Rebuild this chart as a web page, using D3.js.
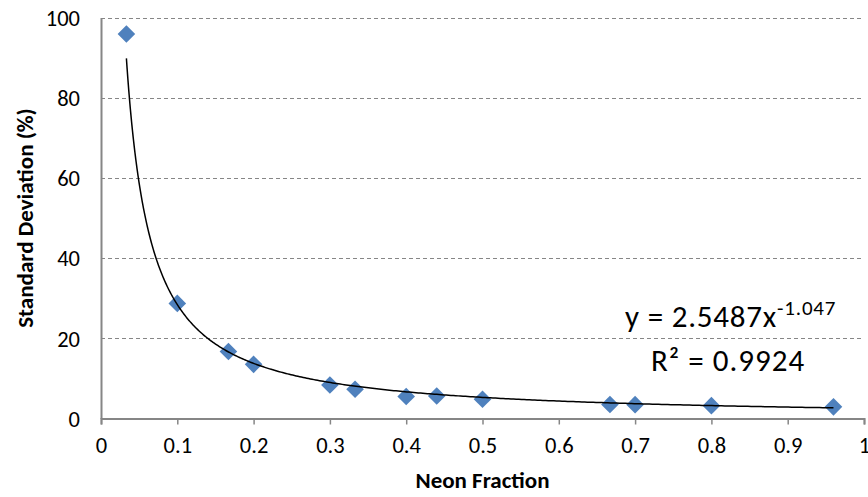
<!DOCTYPE html>
<html>
<head>
<meta charset="utf-8">
<script src="https://cdn.jsdelivr.net/npm/d3@7"></script>
<style>
  body { margin: 0; background: #fff; }
  svg { display: block; font-family: Carlito, Calibri, Lato, sans-serif; }
</style>
</head>
<body>
<svg id="chart" width="868" height="497"></svg>
<script>
'use strict';

var neonFraction = [0.0333, 0.1, 0.167, 0.2, 0.3, 0.333, 0.4, 0.44, 0.5, 0.667, 0.7, 0.8, 0.96]
  , stdDev = [95.9, 28.7, 16.7, 13.5, 8.35, 7.3, 5.5, 5.6, 4.8, 3.5, 3.45, 3.2, 2.9]
  , xTicks = [0, 0.1, 0.2, 0.3, 0.4, 0.5, 0.6, 0.7, 0.8, 0.9, 1]
  , yTicks = [0, 20, 40, 60, 80, 100]
  , fitCoef = 2.5487
  , fitExp = -1.047
  , fitR2 = 0.9924

var svg = d3.select('#chart')
  , x = d3.scaleLinear().domain([0, 1]).range([101, 864])
  , y = d3.scaleLinear().domain([0, 100]).range([418.5, 17.5])
  , axisColor = '#868686'

// dashed gridlines (skip 0, the axis sits there)
svg.append('g')
   .selectAll('line')
   .data(yTicks.filter(function(d){ return d > 0; }))
   .join('line')
     .attr('x1', x(0)).attr('x2', x(1))
     .attr('y1', function(d){ return Math.round(y(d)) + 0.5; })
     .attr('y2', function(d){ return Math.round(y(d)) + 0.5; })
     .attr('stroke', axisColor)
     .attr('stroke-dasharray', '4,3');

var xAxis = svg.append('g')
   .attr('transform', 'translate(0,' + y(0) + ')')
   .call(d3.axisBottom(x).tickValues(xTicks).tickSize(6).tickPadding(13)
           .tickFormat(function(d){ return d === 0 ? '0' : d === 1 ? '1' : d3.format('.1f')(d); }));

var yAxis = svg.append('g')
   .attr('transform', 'translate(' + x(0) + ',0)')
   .call(d3.axisLeft(y).tickValues(yTicks).tickSize(0).tickPadding(21));

[xAxis, yAxis].forEach(function(g){
  g.select('.domain').attr('stroke', axisColor).attr('stroke-width', 2);
  g.selectAll('.tick line').attr('stroke', axisColor).attr('stroke-width', 1.5);
  g.selectAll('.tick text')
   .attr('fill', '#000')
   .style('font-size', '22.5px')
   .style('font-family', 'Carlito, Calibri, Lato, sans-serif');
});
yAxis.selectAll('.tick text').attr('dy', '0.35em');

// markers
var diamond = d3.symbol().type(d3.symbolSquare).size(155)

svg.append('g')
   .selectAll('path')
   .data(neonFraction)
   .join('path')
     .attr('d', diamond)
     .attr('transform', function(d, i){
       return 'translate(' + x(d) + ',' + y(stdDev[i]) + ') rotate(45)';
     })
     .attr('fill', '#4F81BD');

// power trendline from the displayed fit
var xs = d3.range(0, 401).map(function(i){
  var lo = neonFraction[0], hi = neonFraction[neonFraction.length - 1];
  return lo + (hi - lo) * Math.pow(i / 400, 2);
});

svg.append('path')
   .datum(xs)
   .attr('fill', 'none')
   .attr('stroke', '#000')
   .attr('stroke-width', 1.5)
   .attr('d', d3.line()
     .x(function(d){ return x(d); })
     .y(function(d){ return y(fitCoef * Math.pow(d, fitExp)); }));

// trendline label
var eq = svg.append('text')
   .attr('x', 625).attr('y', 327)
   .style('font-size', '31px')
   .style('letter-spacing', '0.8px')
eq.append('tspan').text('y = ' + fitCoef + 'x');
eq.append('tspan')
  .attr('dy', -12)
  .style('font-size', '21px')
  .text(fitExp);

svg.append('text')
   .attr('x', 651).attr('y', 371)
   .style('font-size', '31px')
   .style('letter-spacing', '1px')
   .text('R\u00B2 = ' + fitR2);

// axis titles
svg.append('text')
   .attr('x', (x(0) + x(1)) / 2).attr('y', 488)
   .attr('text-anchor', 'middle')
   .style('font-size', '23px')
   .style('font-weight', 'bold')
   .text('Neon Fraction');

svg.append('text')
   .attr('transform', 'translate(33,' + (y(0) + y(100)) / 2 + ') rotate(-90)')
   .attr('text-anchor', 'middle')
   .style('font-size', '23px')
   .style('font-weight', 'bold')
   .text('Standard Deviation (%)');
</script>
</body>
</html>
